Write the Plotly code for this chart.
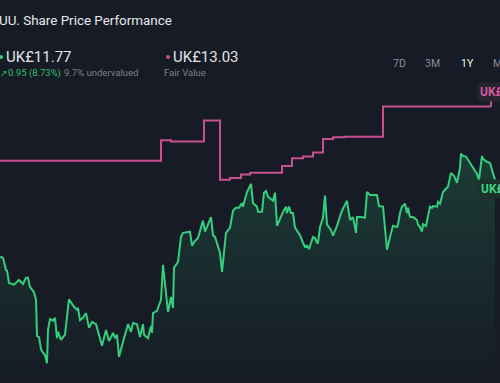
import plotly.graph_objects as go

# ---- data ----
day_idx = [0,3,6,7,9,14,19,23,26,28,30,34,36,37,39,41,43,45,47,48,50,53,55,57,58,61,65,69,74,77,78,80,83,86,89,92,96,
           102,106,109,113,115,117,119,124,128,131,133,137,140,143,144,148,151,152,153,157,161,163,166,168,171,173,174,178,
           181,183,190,192,194,198,203,205,211,213,215,220,222,226,230,233,236,239,242,243,247,251,
           253,257,258,262,264,266,268,273,275,277,283,285,286,287,289,291,293,295,300,303,305,307,309,313,315,317,318,
           320,323,325,327,331,333,337,341,344,347,350,353,356,357,360,365,367,370,377,379,383,387,390,393,397,398,
           400,402,405,407,408,410,413,417,418,420,422,423,426,427,430,432,433,437,438,440,443,445,448,451,454,457,
           460,461,463,466,470,473,477,479,482,483,487,490,492,493,495]
price = [10.45,10.43,10.22,10.21,10.00,9.97,10.05,9.98,10.09,10.09,9.93,9.84,9.71,9.09,9.07,8.86,8.80,8.76,8.62,9.19,9.38,9.35,9.40,9.05,9.16,9.02,9.11,9.72,9.59,9.54,9.57,9.36,9.40,9.48,9.23,9.33,9.29,
         8.92,9.19,9.00,9.14,9.05,9.11,8.73,9.05,9.29,9.16,9.31,9.29,9.07,9.29,9.11,9.05,9.26,9.14,9.48,9.52,9.71,10.31,9.88,9.50,9.76,9.57,10.26,10.36,
         10.79,10.86,10.88,10.64,10.70,10.77,11.07,10.88,11.13,10.82,10.79,10.52,10.19,10.86,10.95,11.24,11.29,11.29,11.37,11.31,11.56,11.70,
         11.37,11.31,11.22,11.22,11.55,11.58,11.48,11.41,11.55,10.98,11.22,11.29,11.31,11.20,11.31,11.20,11.20,10.95,10.82,10.69,10.62,10.64,10.58,10.79,10.77,10.69,10.69,
         10.96,11.12,11.50,11.00,10.91,10.81,10.98,11.20,11.31,11.41,11.08,11.13,10.86,11.13,11.13,11.12,11.56,11.51,11.51,11.32,11.31,10.57,10.79,10.98,10.96,11.00,
         11.20,11.31,11.36,11.20,11.29,11.13,11.13,11.08,11.00,10.96,10.88,11.01,10.98,11.05,11.31,11.29,11.32,11.31,11.39,11.36,11.56,11.60,11.65,11.89,11.84,11.72,
         11.98,12.22,12.18,12.17,12.06,11.99,11.87,11.77,12.18,12.13,12.08,12.06,11.94,11.91,11.77]

fv_idx = [0,161,171,204,220,230,241,250,282,292,303,313,323,333,344,383,491]
fair_value = [12.10,12.45,12.43,12.79,11.77,11.80,11.86,11.89,12.01,12.14,12.17,12.24,12.47,12.50,12.51,13.03,13.03]

last_price_label = "UK£11.77"
fair_value_label = "UK£13.03"
range_buttons = ["7D", "3M", "1Y", "Max"]

# ---- styling ----
BG = "#161b25"
GREEN = "#34cf7e"
PINK = "#c8508f"
Y_RANGE = [8.28, 14.86]
X_RANGE = [0, 500]

fig = go.Figure()

fig.add_trace(go.Scatter(
    x=day_idx, y=price, mode="lines",
    line=dict(color=GREEN, width=2),
    fill="tozeroy",
    fillgradient=dict(type="vertical",
                      colorscale=[[0, "rgba(52,207,126,0)"], [1, "rgba(52,207,126,0.18)"]],
                      start=Y_RANGE[0], stop=max(price)),
    hoverinfo="skip", showlegend=False))

fig.add_trace(go.Scatter(
    x=fv_idx, y=fair_value, mode="lines", line_shape="hv",
    line=dict(color=PINK, width=2),
    hoverinfo="skip", showlegend=False))

# connector from last fair value point up to its label
fig.add_shape(type="line", xref="x", yref="y", xsizemode="scaled", ysizemode="pixel",
              yanchor=fair_value[-1], x0=fv_idx[-1], x1=fv_idx[-1], y0=0, y1=7,
              line=dict(color=PINK, width=2))

fig.add_annotation(x=fv_idx[-1], y=fair_value[-1], xref="x", yref="y",
                   text="<b>" + fair_value_label + "</b>", showarrow=False,
                   xanchor="left", yanchor="bottom", xshift=-14, yshift=5,
                   font=dict(family="Roboto", size=12, color="#d4589b"),
                   bgcolor="#272331", borderpad=2)
fig.add_annotation(x=day_idx[-1], y=price[-1], xref="x", yref="y",
                   text="<b>" + last_price_label + "</b>", showarrow=False,
                   xanchor="left", yanchor="top", xshift=-17, yshift=1,
                   font=dict(family="Roboto", size=12, color="#3ad585"),
                   bgcolor="#1d3029", borderpad=2)

W, H = 500, 383
def px(x, y):
    return x / W, 1 - y / H

def txt(x, y, s, size, color, anchor="left", family="Roboto"):
    fx, fy = px(x, y)
    fig.add_annotation(x=fx, y=fy, xref="paper", yref="paper", text=s, showarrow=False,
                       xanchor=anchor, yanchor="middle", borderpad=0,
                       font=dict(family=family, size=size, color=color))

txt(-2, 20, "UU. Share Price Performance", 13.4, "#e8e9eb")
txt(5, 57, "UK£11.77", 15, "#e3e4e6")
txt(-1, 73, "↗", 9, "#2fbf71", family="DejaVu Sans")
txt(7, 73, "0.95 (8.73%)", 9.5, "#2fbf71")
txt(63, 73, "9.7% undervalued", 9.5, "#7b818b")
txt(172, 57, "UK£13.03", 15, "#e3e4e6")
txt(163, 73, "Fair Value", 9.5, "#7b818b")

# dots
for (cx, cy, col) in [(1, 57, GREEN), (168, 57, PINK)]:
    fx, fy = px(cx, cy)
    fig.add_shape(type="circle", xref="paper", yref="paper", xsizemode="pixel", ysizemode="pixel",
                  xanchor=fx, yanchor=fy, x0=-2, x1=2, y0=-2, y1=2,
                  fillcolor=col, line=dict(width=0))

# range buttons
btn_x = [392, 424, 460, 492]
for bx, b in zip(btn_x, range_buttons):
    col = "#f0f0f0" if b == "1Y" else "#8a8f99"
    txt(bx, 63, b, 10.5, col)

fig.update_layout(
    width=W, height=H,
    margin=dict(l=0, r=0, t=0, b=0),
    paper_bgcolor=BG, plot_bgcolor=BG,
    xaxis=dict(range=X_RANGE, visible=False, fixedrange=True),
    yaxis=dict(range=Y_RANGE, visible=False, fixedrange=True),
    showlegend=False,
)

fig.write_html("out.html", config={"displayModeBar": False},
               post_script="document.body.style.margin='0';document.body.style.overflow='hidden';document.body.style.background='%s';" % BG)
